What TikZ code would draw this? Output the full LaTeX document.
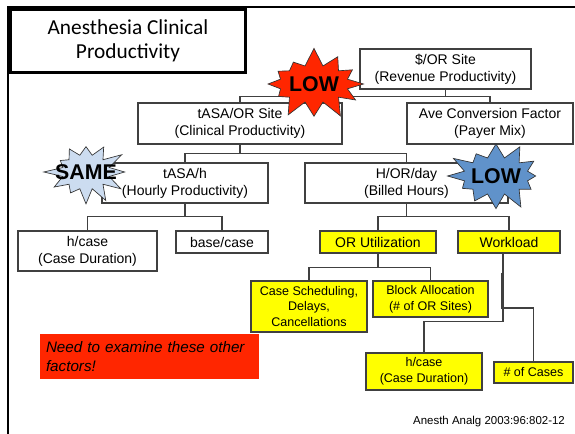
\documentclass[tikz,border=0pt]{standalone}
\usepackage{fontspec}
\setmainfont{Liberation Sans}
\newfontfamily\titlefont{Carlito}
\usetikzlibrary{shapes.symbols}
\definecolor{lowred}{RGB}{255,38,0}
\definecolor{lowblue}{RGB}{96,146,202}
\definecolor{sameblue}{RGB}{204,220,240}
\definecolor{boxyellow}{RGB}{255,255,0}
\definecolor{linegray}{RGB}{64,64,64}

\begin{document}
\begin{tikzpicture}[x=0.75pt,y=-0.75pt,
        bx/.style 2 args={shape=rectangle,draw=linegray,line width=0.8pt,fill=white,inner sep=0pt,
            minimum width=#1*0.75pt,minimum height=#2*0.75pt,align=center,
            font=\fontsize{10.5}{12.75}\selectfont},
        ybx/.style 2 args={bx={#1}{#2},fill=boxyellow},
        small/.style={font=\fontsize{9.4}{11.75}\selectfont},
        burst/.style={shape=starburst,draw=black!80,line width=0.5pt,inner sep=0pt,
            starburst points=12,starburst point height=14pt,
            label={[font=\bfseries\fontsize{16}{16}\selectfont]center:#1}},
        link/.style={draw=linegray,line width=0.8pt}]
            \useasboundingbox (0,0) rectangle (575,434);
            \draw[line width=1.5pt] (8,434) -- (8,7) -- (575,7);

            \node[bx={236}{64},draw=black,line width=0.9pt,
                font=\titlefont\fontsize{16}{18}\selectfont] (T) at (128,41) {Anesthesia Clinical\\Productivity};
            \draw[line width=0.9pt] ([shift={(1.7pt,-1.7pt)}]T.north west) rectangle ([shift={(-1.7pt,1.7pt)}]T.south east);

            \node[bx={171}{40}] (A) at (445.5,69) {\$/OR Site\\(Revenue Productivity)};
            \node[bx={204}{41}] (B) at (240,123.5) {tASA/OR Site\\(Clinical Productivity)};
            \node[bx={166}{41}] (C) at (490,123.5) {Ave Conversion Factor\\(Payer Mix)};
            \node[bx={166}{40}] (D) at (185,183) {tASA/h\\(Hourly Productivity)};
            \node[bx={203}{40}] (E) at (406.5,183) {H/OR/day\\(Billed Hours)};
            \node[bx={139}{40}] (F) at (87.5,251) {h/case\\(Case Duration)};
            \node[bx={92}{22}] (G) at (222,242) {base/case};
            \node[ybx={116}{22}] (H) at (378,242) {OR Utilization};
            \node[ybx={102}{22}] (I) at (509,242) {Workload};
            \node[ybx={116}{51},small] (J) at (309,306.5) {Case Scheduling,\\Delays,\\Cancellations};
            \node[ybx={115}{36},small] (K) at (430.5,299) {Block Allocation\\(\# of OR Sites)};
            \node[ybx={116}{37},small] (L) at (424,371.5) {h/case\\(Case Duration)};
            \node[ybx={79}{21},small] (M) at (533.5,372.5) {\# of Cases};

            \node[shape=rectangle,fill=lowred,inner xsep=4.5pt,inner ysep=0pt,text width=155.25pt,minimum height=33.75pt,
                align=left,font=\itshape\fontsize{11.4}{14.25}\selectfont] (N) at (149.5,356.5) {Need to examine these other\\factors!};
            \node[font=\fontsize{8.6}{10}\selectfont] (O) at (489,422) {Anesth Analg 2003:96:802-12};

            \draw[link] (A.south) -- ++(0,7) -| (B.north);
            \draw[link] (A.south) -- ++(0,7) -| (C.north);
            \draw[link] (B.south) -- ++(0,9) -| (D.north);
            \draw[link] (B.south) -- ++(0,9) -| (E.north);
            \draw[link] (D.south) -- ++(0,13) -| (F.north);
            \draw[link] (D.south) -- ++(0,13) -| (G.north);
            \draw[link] (E.south) -- ++(0,13) -| (H.north);
            \draw[link] (E.south) -- ++(0,13) -| (I.north);
            \draw[link] (H.south) -- ++(0,14) -| (J.north);
            \draw[link] (H.south) -- ++(0,14) -| (K.north);
            \draw[link] ([xshift=-4.5pt]I.south) -- ++(0,68) -| (L.north);
            \coordinate (wb) at (501.5,273);
            \draw[link] (wb) -- ++(0,35) -| (M.north);

            \node[burst=LOW,fill=lowred,random starburst=7,minimum width=80pt,minimum height=56pt] (P) at (314,84) {};
            \node[burst=LOW,fill=lowblue,random starburst=21,minimum width=77pt,minimum height=56pt] (Q) at (496,176) {};
            \node[burst=SAME,fill=sameblue,random starburst=42,minimum width=64pt,minimum height=54pt] (R) at (86,172) {};
        \end{tikzpicture}
\end{document}
